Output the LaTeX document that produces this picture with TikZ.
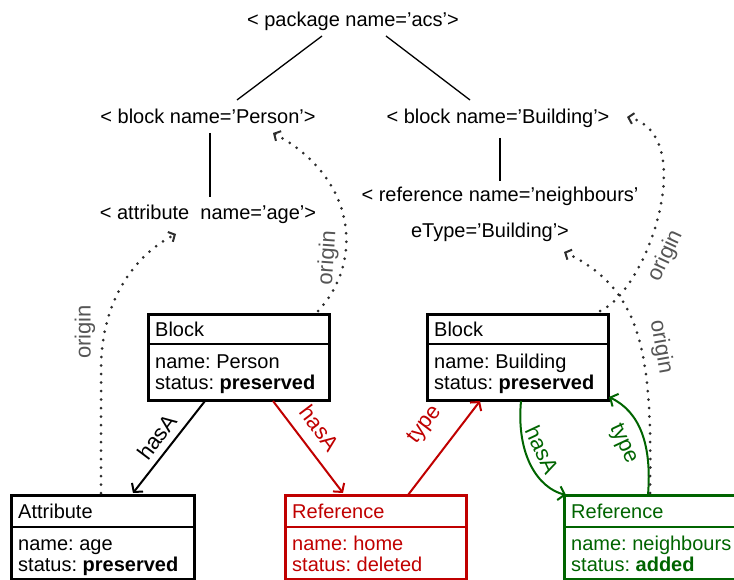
\documentclass[tikz,border=0pt]{standalone}
\usepackage{fontspec}
\setmainfont{Liberation Sans}
\frenchspacing
\usetikzlibrary{arrows.meta}
\definecolor{myred}{RGB}{192,0,0}
\definecolor{mygreen}{RGB}{0,100,0}
\definecolor{mydots}{RGB}{45,45,45}
\definecolor{mygray}{RGB}{85,85,85}
\begin{document}
\begin{tikzpicture}[x=1pt,y=-1pt,
  font=\fontsize{20}{21}\selectfont,
  every node/.style={inner sep=0pt},
  box/.style={draw, line width=2.5pt, minimum width=181pt, minimum height=86pt, anchor=north west},
  txt/.style={anchor=base west},
  tag/.style={anchor=base},
  treeline/.style={line width=1.3pt},
  rel/.style={line width=2pt, -{Straight Barb[length=6pt,width=14pt,line width=2pt]}},
  rlab/.style={font=\fontsize{22}{22}\selectfont},
  orig/.style={mydots, line width=3pt, line cap=round, dash pattern=on 0pt off 8.5pt,
     -{Straight Barb[length=5pt,width=11pt,line width=2pt]}},
  olab/.style={mygray, font=\fontsize{22}{22}\selectfont}
]
\useasboundingbox (0,0) rectangle (734,580);

% tree tags
\node[tag] (pkg) at (353,27) {< package name='acs'>};
\node[tag] (tperson) at (208,124) {< block name='Person'>};
\node[tag] (tbuild) at (498,124) {< block name='Building'>};
\node[tag] (tattr) at (208,220) {< attribute\ \ name='age'>};
\node[tag] (tref1) at (500,202) {< reference name='neighbours'};
\node[tag] (tref2) at (490,238) {eType='Building'>};
\coordinate (pkgL) at (322,36);
\coordinate (pkgR) at (386,36);
\coordinate (perT) at (237,100);
\coordinate (bldT) at (470,100);
\coordinate (perB) at (210,133);
\coordinate (attT) at (210,197);
\coordinate (bldB) at (500,138);
\coordinate (refT) at (500,181);
\draw[treeline] (pkgL) -- (perT);
\draw[treeline] (pkgR) -- (bldT);
\draw[treeline] (perB) -- (attT);
\draw[treeline] (bldB) -- (refT);

% boxes
\node[box] (bp) at (147,313) {};
\draw[line width=2.5pt] ([yshift=-31pt]bp.north west) -- ([yshift=-31pt]bp.north east);
\node[txt] (bpa) at (155,336) {Block};
\node[txt] (bpb) at (155,368) {name: Person};
\node[txt] (bpc) at (155,389) {status: \textbf{preserved}};

\node[box] (bb) at (426,313) {};
\draw[line width=2.5pt] ([yshift=-31pt]bb.north west) -- ([yshift=-31pt]bb.north east);
\node[txt] (bba) at (434,336) {Block};
\node[txt] (bbb) at (434,368) {name: Building};
\node[txt] (bbc) at (434,389) {status: \textbf{preserved}};

\node[box, minimum width=183pt, minimum height=84pt] (ba) at (10,494) {};
\draw[line width=2.5pt] ([yshift=-33pt]ba.north west) -- ([yshift=-33pt]ba.north east);
\node[txt] (baa) at (18,518) {Attribute};
\node[txt] (bab) at (18,550) {name: age};
\node[txt] (bac) at (18,571) {status: \textbf{preserved}};

\node[box, draw=myred, minimum height=84pt] (rh) at (284,494) {};
\draw[line width=2.5pt, myred] ([yshift=-33pt]rh.north west) -- ([yshift=-33pt]rh.north east);
\node[txt, myred] (rha) at (292,518) {Reference};
\node[txt, myred] (rhb) at (292,550) {name: home};
\node[txt, myred] (rhc) at (292,571) {status: deleted};

\node[box, draw=mygreen, minimum width=181pt, minimum height=84pt] (rn) at (563,494) {};
\draw[line width=2.5pt, mygreen] ([yshift=-33pt]rn.north west) -- ([yshift=-33pt]rn.north east);
\node[txt, mygreen] (rna) at (571,518) {Reference};
\node[txt, mygreen] (rnb) at (571,550) {name: neighbours};
\node[txt, mygreen] (rnc) at (571,571) {status: \textbf{added}};

% relations
\coordinate (bpS1) at (205,401);
\coordinate (baN) at (133,493);
\coordinate (bpS2) at (273,401);
\coordinate (rhN1) at (343,493);
\coordinate (rhN2) at (408,495);
\coordinate (bbS1) at (480,401);
\coordinate (bbS2) at (521,401);
\coordinate (rnW) at (566,495);
\coordinate (rnN) at (648,495);
\coordinate (bbE) at (609,397);
\draw[rel] (bpS1) -- (baN);
\draw[rel, myred] (bpS2) -- (rhN1);
\draw[rel, myred] (rhN2) -- (bbS1);
\draw[rel, mygreen] (bbS2) .. controls (516,455) and (538,488) .. (rnW);
\draw[rel, mygreen] (rnN) .. controls (652,445) and (640,412) .. (bbE);
\node[rlab, rotate=53] (l1) at (157,437) {hasA};
\node[rlab, rotate=-53, myred] (l2) at (320,428) {hasA};
\node[rlab, rotate=53, myred] (l3) at (425,425) {type};
\node[rlab, rotate=-65, mygreen] (l4) at (542,450) {hasA};
\node[rlab, rotate=-65, mygreen] (l5) at (623,444) {type};

% origin links
\coordinate (o1s) at (318,311);
\coordinate (o1e) at (273,133);
\coordinate (o2s) at (101,493);
\coordinate (o2m) at (101,370);
\coordinate (o2e) at (176,234);
\coordinate (o3s) at (600,311);
\coordinate (o3e) at (627,117);
\coordinate (o4s) at (650,493);
\coordinate (o4e) at (564,252);
\draw[orig] (o1s) .. controls (362,265) and (360,180) .. (o1e);
\draw[orig] (o2s) -- (o2m) .. controls (101,300) and (135,255) .. (o2e);
\draw[orig] (o3s) .. controls (648,290) and (700,135) .. (o3e);
\draw[orig] (o4s) .. controls (652,360) and (645,290) .. (o4e);
\node[olab, rotate=86] (ol1) at (328,258) {origin};
\node[olab, rotate=90] (ol2) at (85,332) {origin};
\node[olab, rotate=65] (ol3) at (666,256) {origin};
\node[olab, rotate=-80] (ol4) at (661,347) {origin};
\end{tikzpicture}
\end{document}
